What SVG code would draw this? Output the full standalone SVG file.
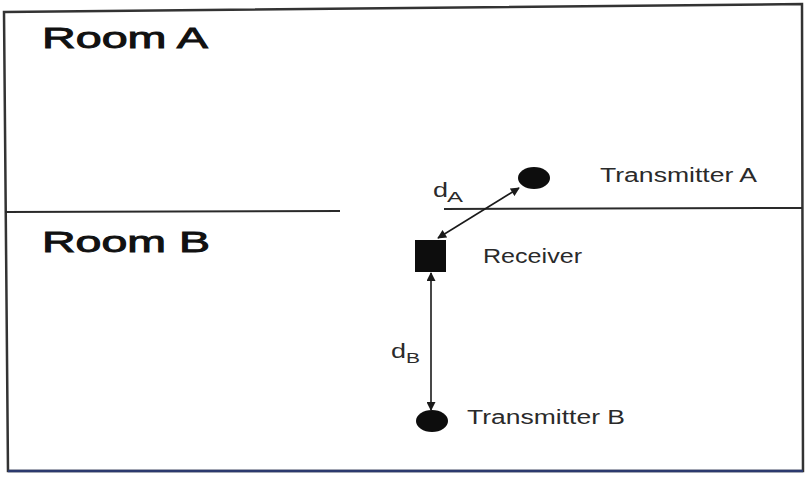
<svg xmlns="http://www.w3.org/2000/svg" width="805" height="477" viewBox="0 0 805 477">
  <defs>
    <style>
      .wall { fill: none; stroke: #2a2a2a; stroke-width: 2; }
      .frame { fill: #ffffff; stroke: #333333; stroke-width: 2.5; }
      .room { font-family: "Liberation Sans", Arial, sans-serif; font-size: 29px; fill: #111111; stroke: #111111; stroke-width: 0.9; }
      .lbl { font-family: "Liberation Sans", Arial, sans-serif; font-size: 20px; fill: #2a2a2a; }
      .sub { font-family: "Liberation Sans", Arial, sans-serif; font-size: 15px; fill: #2a2a2a; }
      .dev { fill: #0d0d0d; }
      .link { stroke: #1a1a1a; stroke-width: 1.6; fill: none; marker-start: url(#tip); marker-end: url(#tip); }
    </style>
    <marker id="tip" viewBox="0 0 10 10" refX="9" refY="5" markerWidth="10" markerHeight="9" orient="auto-start-reverse" markerUnits="userSpaceOnUse">
      <path d="M0,0 L10,5 L0,10 z" fill="#1a1a1a"/>
    </marker>
  </defs>

  <rect width="805" height="477" fill="#ffffff"/>

  <!-- outer frame -->
  <polygon class="frame" points="4,12 802,4 803,471 8,471"/>
  <line x1="8" y1="471" x2="803" y2="471" stroke="#2b3a6e" stroke-width="2.5"/>

  <!-- wall between the two rooms -->
  <g id="walls">
    <line class="wall" x1="5" y1="212" x2="340" y2="211"/>
    <line class="wall" x1="444" y1="209" x2="802" y2="208"/>
  </g>

  <g id="room-a">
    <text class="room" x="42" y="48" textLength="166" lengthAdjust="spacingAndGlyphs">Room A</text>
  </g>
  <g id="room-b">
    <text class="room" x="42" y="252" textLength="168" lengthAdjust="spacingAndGlyphs">Room B</text>
  </g>

  <g id="transmitter-a">
    <ellipse class="dev" cx="534" cy="178" rx="16" ry="11"/>
    <text class="lbl" x="600" y="182" textLength="157" lengthAdjust="spacingAndGlyphs">Transmitter A</text>
  </g>

  <g id="receiver">
    <rect class="dev" x="415" y="240" width="31" height="32"/>
    <text class="lbl" x="483" y="263" textLength="99" lengthAdjust="spacingAndGlyphs">Receiver</text>
  </g>

  <g id="transmitter-b">
    <ellipse class="dev" cx="432" cy="421" rx="16" ry="11"/>
    <text class="lbl" x="467" y="424" textLength="158" lengthAdjust="spacingAndGlyphs">Transmitter B</text>
  </g>

  <!-- distance connectors -->
  <g id="connectors">
    <line class="link" x1="438" y1="238" x2="519" y2="188"/>
    <line class="link" x1="431" y1="273" x2="431" y2="410"/>
  </g>

  <g id="distance-labels">
    <text class="lbl" x="433" y="197" textLength="15" lengthAdjust="spacingAndGlyphs">d</text>
    <text class="sub" x="447" y="202" textLength="16" lengthAdjust="spacingAndGlyphs">A</text>
    <text class="lbl" x="391" y="358" textLength="15" lengthAdjust="spacingAndGlyphs">d</text>
    <text class="sub" x="406" y="363" textLength="14" lengthAdjust="spacingAndGlyphs">B</text>
  </g>
</svg>
